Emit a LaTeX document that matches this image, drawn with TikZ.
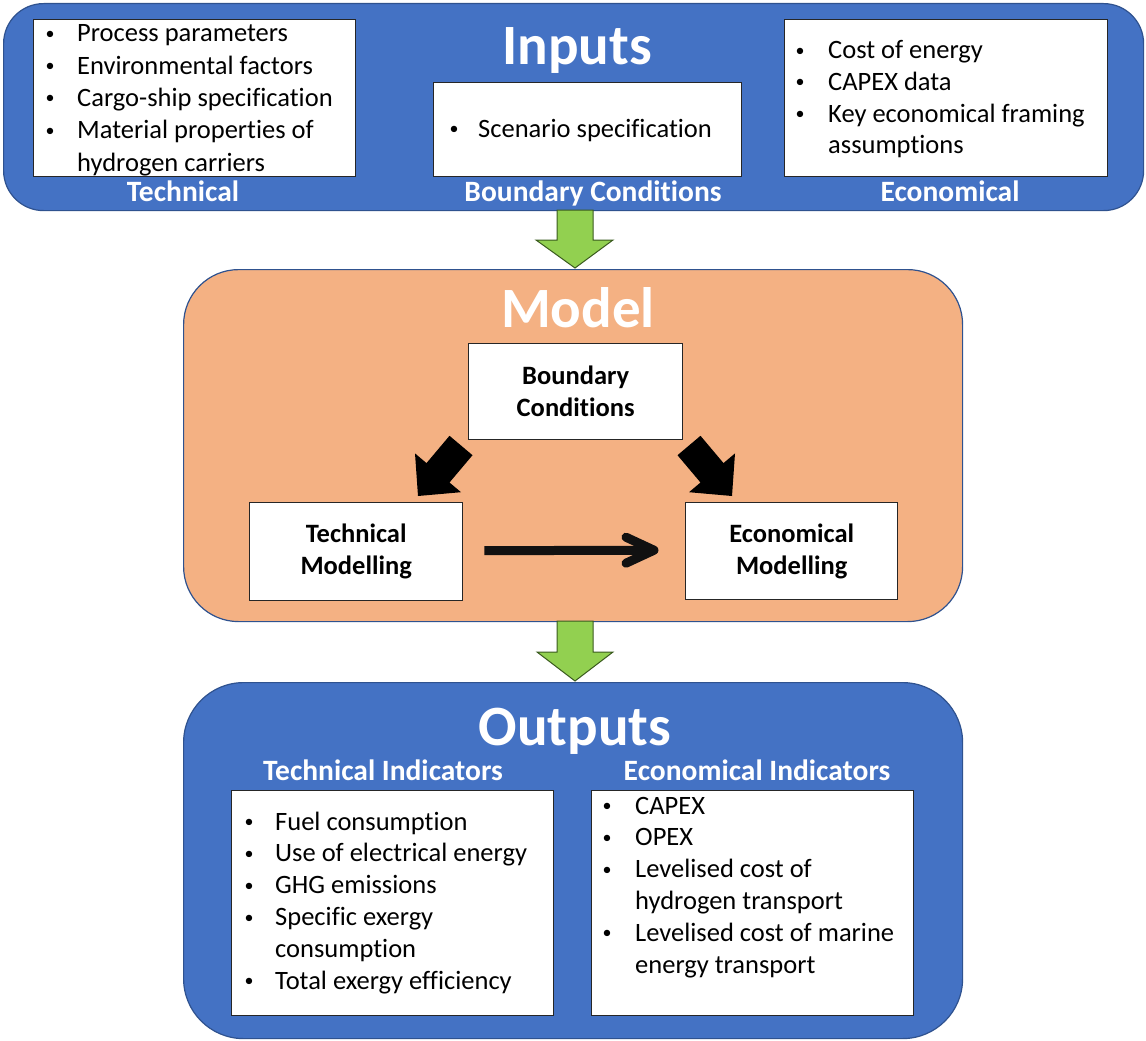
\documentclass[tikz,border=0pt]{standalone}
\usepackage{fontspec}
\setmainfont{Carlito}[Ligatures=NoCommon]
\usetikzlibrary{calc}
\definecolor{oblue}{HTML}{4472C4}
\definecolor{edgeblue}{HTML}{2F528F}
\definecolor{orangefill}{HTML}{F4B183}
\definecolor{arrgreen}{HTML}{92D050}
\definecolor{greenedge}{HTML}{3A5A1E}
\definecolor{boxedge}{HTML}{262626}
\definecolor{arrblack}{HTML}{111111}
\newlength\bulw
\newcommand\blist[3]{{\setlength\bulw{#2pt}\fontsize{26.5}{#1}\selectfont\begin{tabular}[t]{@{}l@{}l@{}}#3\end{tabular}}}
\newcommand\bul{\makebox[\bulw][l]{\hspace{1.5pt}\raisebox{2.6pt}{\fontsize{18}{18}\selectfont\textbullet}}}
\begin{document}
\begin{tikzpicture}[x=1pt,y=-1pt,
  panel/.style={draw=edgeblue, line width=1.2pt, inner sep=0pt, anchor=north west},
  wbox/.style={draw=boxedge, line width=1.4pt, fill=white, inner sep=0pt, anchor=north west},
  listnode/.style={anchor=base west, inner sep=0pt, text=black},
  title/.style={anchor=base, inner sep=0pt, text=white, font=\fontsize{57}{60}\selectfont\bfseries},
  label/.style={anchor=base, inner sep=0pt, text=white, font=\fontsize{29.5}{32}\selectfont\bfseries},
  mbox/.style={wbox, align=center, font=\fontsize{26.5}{32}\selectfont\bfseries},
  garrow/.style={fill=arrgreen, draw=greenedge, line width=1pt, line join=miter},
  barrow/.style={fill=black, draw=none},
  harrow/.style={draw=arrblack, line width=9pt},
  hhead/.style={draw=arrblack, line width=9pt, line cap=round, line join=round},
  ]
\useasboundingbox (0,0) rectangle (1146,1041);

% ---------------- Inputs ----------------
\node[panel, fill=oblue, rounded corners=40pt, minimum width=1140pt, minimum height=207pt] (inputs) at (3,3) {};
\node[title] (tin) at (577,65) {Inputs};
\node[wbox, minimum width=322pt, minimum height=157pt] (techin) at (33,19) {};
\node[listnode] (techinl) at (44,42) {\blist{32.3}{33}{%
\bul & Process parameters\\
\bul & Environmental factors\\
\bul & Cargo-ship specification\\
\bul & Material properties of\\
 & hydrogen carriers}};
\node[label] (ltech) at (183,201) {Technical};

\node[wbox, minimum width=308pt, minimum height=94pt] (scen) at (433,82) {};
\node[listnode] (scenl) at (448,137) {\blist{32}{30}{\bul & Scenario specification}};
\node[label] (lbc) at (593,201) {Boundary Conditions};

\node[wbox, minimum width=323pt, minimum height=157pt] (econin) at (784,19) {};
\node[listnode] (econinl) at (794,59) {\blist{31.6}{34}{%
\bul & Cost of energy\\
\bul & CAPEX data\\
\bul & Key economical framing\\
 & assumptions}};
\node[label] (lecon) at (950,201) {Economical};

% ---------------- Model ----------------
\node[panel, fill=orangefill, rounded corners=55pt, minimum width=779pt, minimum height=352pt] (model) at (183,269) {};
\node[title] (tmodel) at (578,327) {Model};
\node[mbox, minimum width=214pt, minimum height=96pt] (bc) at (468,343) {Boundary\\Conditions};
\node[mbox, minimum width=213pt, minimum height=98pt] (tm) at (249,502) {Technical\\Modelling};
\node[mbox, minimum width=212pt, minimum height=97pt] (em) at (685,502) {Economical\\Modelling};

% block arrows
\fill[barrow] (449.5,435.8) -- (472.5,455.2) -- (449.5,482.5) -- (461,492.2) -- (418,496) -- (415,453.4) -- (426.5,463.1) -- cycle;
\fill[barrow] (700.5,435.8) -- (677.5,455.2) -- (700.5,482.5) -- (689,492.2) -- (732,496) -- (735,453.4) -- (723.5,463.1) -- cycle;

% horizontal arrow
\coordinate (htip) at ($(em.west)+(-31,-1)$);
\draw[harrow] ($(tm.east)+(21,-1)$) -- (htip);
\draw[hhead] ($(htip)+(-28,-13)$) -- (htip) -- ($(htip)+(-28,13)$);

% green arrows
\draw[garrow] (557,210) -- (557,240) -- (536,240) -- (575,268) -- (613,240) -- (593,240) -- (593,210) -- cycle;
\draw[garrow] (557,621) -- (557,652) -- (537,652) -- (575,681) -- (613,652) -- (593,652) -- (593,621) -- cycle;

% ---------------- Outputs ----------------
\node[panel, fill=oblue, rounded corners=60pt, minimum width=779pt, minimum height=356pt] (outputs) at (183,682) {};
\node[title] (tout) at (575,745) {Outputs};
\node[label] (lti) at (383,780) {Technical Indicators};
\node[label] (lei) at (757,780) {Economical Indicators};

\node[wbox, minimum width=322pt, minimum height=225pt] (ti) at (231,790) {};
\node[listnode] (til) at (243,830) {\blist{31.9}{32}{%
\bul & Fuel consumption\\
\bul & Use of electrical energy\\
\bul & GHG emissions\\
\bul & Specific exergy\\
 & consumption\\
\bul & Total exergy efficiency}};

\node[wbox, minimum width=322pt, minimum height=225pt] (ei) at (591,790) {};
\node[listnode] (eil) at (601,814) {\blist{31.8}{34}{%
\bul & CAPEX\\
\bul & OPEX\\
\bul & Levelised cost of\\
 & hydrogen transport\\
\bul & Levelised cost of marine\\
 & energy transport}};
\end{tikzpicture}
\end{document}
